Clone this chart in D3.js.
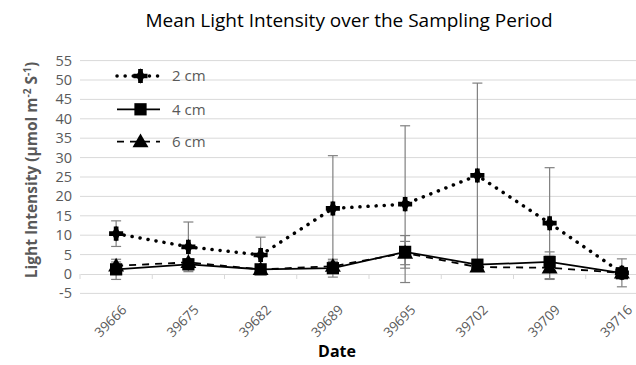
<!DOCTYPE html>
<html><head><meta charset="utf-8">
<script src="https://cdn.jsdelivr.net/npm/d3@7"></script>
<style>body{margin:0;background:#fff}svg{display:block}</style>
</head><body><svg id="c" width="636" height="365"></svg>
<script>
const dates = ["39666","39675","39682","39689","39695","39702","39709","39716"];
const cm2 = [10.4, 7.0, 4.9, 16.9, 18.0, 25.4, 13.1, 0.3];
const cm2Err = [3.3, 6.4, 4.6, 13.6, 20.2, 23.8, 14.3, 3.6];
const cm4 = [1.2, 2.5, 1.2, 1.5, 5.7, 2.4, 3.1, 0.2];
const cm4Err = [2.6, 1.4, 0.6, 2.3, 4.2, 0.8, 2.6, 0.3];
const cm6 = [2.1, 3.0, 1.2, 2.0, 5.4, 1.8, 1.6, 0.3];
const cm6Err = [1.0, 0.8, 0.4, 1.2, 3.0, 0.6, 3.0, 0.3];
const yTicks = [-5,0,5,10,15,20,25,30,35,40,45,50,55];
const seriesNames = ["2 cm","4 cm","6 cm"];

const svg = d3.select("#c");
const font = "'Open Sans', 'Noto Sans', sans-serif";
const pLeft = 80, plotW = 578, pTop = 60.6, pBottom = 293.4;
const x = d3.scaleBand().domain(dates).range([pLeft, pLeft + plotW]);
const y = d3.scaleLinear().domain([-5, 55]).range([pBottom, pTop]);

// gridlines
svg.append("g").selectAll("line").data(yTicks.filter(t => t !== 0)).join("line")
  .attr("x1", pLeft).attr("x2", 636).attr("y1", d => y(d)).attr("y2", d => y(d))
  .attr("stroke", "#d9d9d9").attr("stroke-width", 1);

// y tick labels
svg.append("g").selectAll("text").data(yTicks).join("text")
  .attr("x", 72).attr("y", d => y(d)).attr("dy", "0.35em").attr("text-anchor", "end")
  .attr("font-family", font).attr("font-size", 14.5).attr("fill", "#595959").text(d => d);

// x axis at zero
const xa = svg.append("g").attr("transform", `translate(0,${y(0)})`)
  .call(d3.axisBottom(x).tickSize(0).tickFormat(""));
xa.select(".domain").attr("stroke", "#d9d9d9");
svg.append("g").selectAll("line").data(d3.range(dates.length + 1)).join("line")
  .attr("x1", i => pLeft + i * x.step()).attr("x2", i => pLeft + i * x.step())
  .attr("y1", y(0)).attr("y2", y(0) + 5).attr("stroke", "#d9d9d9");

// x tick labels rotated
svg.append("g").selectAll("text").data(dates).join("text")
  .attr("transform", d => `translate(${x(d) + x.bandwidth() / 2 + 8},${y(-5) + 14}) rotate(-45)`)
  .attr("text-anchor", "end").attr("dy", "0.35em")
  .attr("font-family", font).attr("font-size", 13.5).attr("fill", "#595959").text(d => d);

// axis titles
svg.append("text").attr("x", 337).attr("y", 357).attr("text-anchor", "middle")
  .attr("font-family", font).attr("font-size", 16).attr("font-weight", "bold").attr("fill", "#000").text("Date");

const yt = svg.append("text").attr("transform", `translate(37,170) rotate(-90)`)
  .attr("text-anchor", "middle").attr("font-family", font).attr("font-size", 15.5)
  .attr("font-weight", "bold").attr("fill", "#595959");
yt.append("tspan").text("Light Intensity (µmol m");
yt.append("tspan").attr("dy", -6).attr("font-size", 10).text("-2");
yt.append("tspan").attr("dy", 6).text(" S");
yt.append("tspan").attr("dy", -6).attr("font-size", 10).text("-1");
yt.append("tspan").attr("dy", 6).text(")");

// title
svg.append("text").attr("x", 349).attr("y", 27).attr("text-anchor", "middle")
  .attr("font-family", font).attr("font-size", 19).attr("fill", "#000")
  .text("Mean Light Intensity over the Sampling Period");

const cx = d => x(d) + x.bandwidth() / 2;
const series = [
  {vals: cm2, err: cm2Err, dash: "0.1 8", cap: "round", w: 3.5, sym: "plus"},
  {vals: cm4, err: cm4Err, dash: null, cap: "butt", w: 1.8, sym: "square"},
  {vals: cm6, err: cm6Err, dash: "7 6", cap: "butt", w: 1.8, sym: "triangle"}
];

// error bars
series.forEach(s => {
  const g = svg.append("g").attr("stroke", "#808080").attr("stroke-width", 1.2);
  dates.forEach((d, i) => {
    const v = s.vals[i], e = s.err[i], xx = cx(d);
    g.append("line").attr("x1", xx).attr("x2", xx).attr("y1", y(v - e)).attr("y2", y(v + e));
    [v - e, v + e].forEach(t => g.append("line").attr("x1", xx - 5).attr("x2", xx + 5).attr("y1", y(t)).attr("y2", y(t)));
  });
});

function marker(g, type, xx, yy) {
  if (type === "plus") {
    g.append("path").attr("transform", `translate(${xx},${yy})`).attr("d", d3.symbol(d3.symbolCross, 110)()).attr("fill", "#000");
    g.append("path").attr("transform", `translate(${xx},${yy})`).attr("d", d3.symbol(d3.symbolDiamond, 70)()).attr("fill", "#000");
  } else if (type === "square") {
    g.append("path").attr("transform", `translate(${xx},${yy})`).attr("d", d3.symbol(d3.symbolSquare, 150)()).attr("fill", "#000");
  } else {
    g.append("path").attr("transform", `translate(${xx},${yy + 1})`).attr("d", d3.symbol(d3.symbolTriangle, 110)()).attr("fill", "#000");
  }
}

// lines + markers (draw 6, then 4, then 2)
const line = d3.line().x((v, i) => cx(dates[i])).y(v => y(v));
[2, 1, 0].forEach(k => {
  const s = series[k];
  svg.append("path").datum(s.vals).attr("d", line).attr("fill", "none").attr("stroke", "#000")
    .attr("stroke-width", s.w).attr("stroke-dasharray", s.dash).attr("stroke-linecap", s.cap);
});
[2, 1, 0].forEach(k => {
  const s = series[k];
  const g = svg.append("g");
  s.vals.forEach((v, i) => marker(g, s.sym, cx(dates[i]), y(v)));
});

// legend
const legY = [76, 109.3, 141.7];
series.forEach((s, k) => {
  const g = svg.append("g");
  g.append("line").attr("x1", 117).attr("x2", 160).attr("y1", legY[k]).attr("y2", legY[k])
    .attr("stroke", "#000").attr("stroke-width", s.w).attr("stroke-dasharray", s.dash).attr("stroke-linecap", s.cap);
  marker(g, s.sym, 140.5, legY[k]);
  g.append("text").attr("x", 172).attr("y", legY[k]).attr("dy", "0.35em")
    .attr("font-family", font).attr("font-size", 15).attr("fill", "#595959").text(seriesNames[k]);
});
</script></body></html>
